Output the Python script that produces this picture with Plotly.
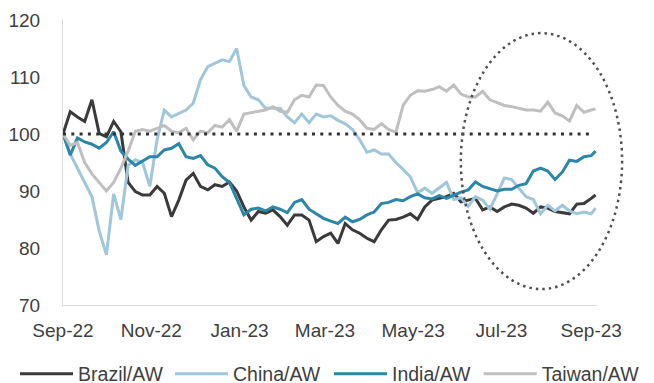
import pandas as pd
import plotly.graph_objects as go

# sampling dates: every 5 calendar days from 1 Sep 2022, plus final observation
dates = list(pd.date_range("2022-09-01", periods=74, freq="5D")) + [pd.Timestamp("2023-09-04")]

brazil = [100, 103.9, 103, 102.2, 106, 100.1, 99.5, 102.2, 100.4, 91.5,
          89.9, 89.3, 89.3, 90.8, 89.6, 85.5, 88.4, 91.9, 93.1, 90.8,
          90.2, 91.1, 90.8, 91.6, 90.0, 87.2, 84.9, 86.4, 86.1, 86.7,
          85.5, 84.0, 85.8, 85.8, 84.9, 81.1, 82.0, 82.6, 80.8, 84.3,
          83.2, 82.6, 81.7, 81.1, 83.2, 84.9, 85.0, 85.4, 86.0, 85.0,
          87.2, 88.4, 88.7, 89.0, 89.6, 88.1, 88.4, 88.7, 86.7, 87.2,
          86.4, 87.2, 87.7, 87.5, 87.0, 86.1, 87.2, 87.0, 86.4, 86.2,
          86.0, 87.7, 87.8, 88.7, 89.3]
china = [100, 96.5, 94, 91.5, 89, 83, 78.8, 89.5, 85, 94.5,
         95.5, 95, 90.8, 99, 104.2, 103, 103.6, 104.2, 105.4, 109.5,
         111.8, 112.4, 113, 112.7, 115, 108.5, 106.5, 106, 104.5, 104.5,
         104.5, 103, 102, 103.5, 102, 103.5, 103, 103.2, 102.4, 101.8,
         100.8, 99, 96.8, 97.2, 96.5, 96.5, 95, 93.8, 92.5, 89.7,
         90.5, 89.6, 90.5, 91.5, 88.5, 88.8, 87.3, 89, 88.4, 86.8,
         89.5, 92.3, 92, 90.5, 89, 88.5, 86, 87.5, 86.5, 87.5,
         86.5, 86, 86.3, 86, 87]
india = [100, 96.3, 99.3, 98.6, 98.2, 97.5, 98.5, 100.4, 97, 95.6,
         94.5, 95.3, 96, 96, 97.2, 97.5, 98.3, 96, 95.7, 96.2,
         94.6, 94, 92.5, 91.5, 88.5, 85.8, 86.8, 87, 86.5, 87.2,
         86.8, 86.2, 88, 88.5, 86.8, 86, 85.2, 84.7, 84.3, 85.4,
         84.6, 85, 85.8, 86.3, 87.8, 88, 88.5, 88.3, 89, 89.5,
         88.8, 88.6, 89.2, 88.7, 89.3, 89.8, 90.2, 91.6, 90.8, 90.4,
         90, 90.3, 90.3, 91, 91.3, 93.5, 94, 93.5, 92, 93.3,
         95.4, 95.2, 96, 96.2, 97]
taiwan = [100, 98, 98.5, 95, 93, 91.5, 90, 91.5, 94, 97,
          100.5, 100.8, 100.5, 101, 101.5, 100.5, 100.2, 101, 99, 100.5,
          100.2, 101.5, 101.2, 102.5, 100.5, 103.5, 103.8, 104, 104.2, 104.8,
          104, 103.8, 106, 106.8, 106.5, 108.6, 108.5, 106.5, 105, 104,
          103.5, 102.5, 101, 100.8, 101.8, 100.8, 100.3, 105, 106.8, 107.6,
          107.5, 107.8, 108.3, 107.5, 108.6, 107, 106.5, 106.5, 107.5, 106,
          105.5, 105, 104.8, 104.5, 104.2, 104.2, 104, 105.6, 103.7, 103.2,
          102.3, 105, 103.8, 104.2, 104.4]

names = ["Brazil/AW", "China/AW", "India/AW", "Taiwan/AW"]
series = [brazil, china, india, taiwan]
colors = ["#3a3a3a", "#a0c6d9", "#2b87a5", "#bfbfbf"]

tick_dates = ["2022-09-01", "2022-11-01", "2023-01-01", "2023-03-01",
              "2023-05-01", "2023-07-01", "2023-09-01"]
tick_labels = ["Sep-22", "Nov-22", "Jan-23", "Mar-23", "May-23", "Jul-23", "Sep-23"]
y_ticks = [70, 80, 90, 100, 110, 120]
baseline = 100

legend_ids = ["legend", "legend2", "legend3", "legend4"]
legend_x = [0.023, 0.26, 0.503, 0.732]

fig = go.Figure()
for name, vals, col, lid in zip(names, series, colors, legend_ids):
    fig.add_trace(go.Scatter(x=dates, y=vals, mode="lines", name=name,
                             line=dict(color=col, width=3), legend=lid))

fig.add_shape(type="line", xref="paper", yref="y", x0=0, x1=0.99,
              y0=baseline, y1=baseline,
              line=dict(color="#333333", width=3, dash="3px,5.3px"))
fig.add_shape(type="circle", xref="paper", yref="y", x0=0.745, x1=1.047,
              y0=72.8, y1=117.7,
              line=dict(color="#505050", width=2.5, dash="2.5px,4px"))

font = dict(family="Liberation Sans, Arial, sans-serif", size=19, color="#404040")
leg_font = dict(family="Liberation Sans, Arial, sans-serif", size=19.5, color="#404040")
layout_legends = {}
for lid, lx in zip(legend_ids, legend_x):
    layout_legends[lid] = dict(orientation="h", xref="container", yref="container",
                               x=lx, xanchor="left", y=0.0235, yanchor="middle",
                               font=leg_font, itemwidth=53,
                               bgcolor="rgba(0,0,0,0)")

fig.update_layout(
    width=654, height=383,
    margin=dict(l=63, r=57, t=20, b=78, autoexpand=False),
    paper_bgcolor="white", plot_bgcolor="white",
    font=font,
    showlegend=True,
    xaxis=dict(type="date", range=["2022-09-01", "2023-09-05"],
               tickvals=tick_dates, ticktext=tick_labels,
               showgrid=False, zeroline=False, showline=True,
               linecolor="#d9d9d9", linewidth=1, ticks="", ticklabelstandoff=8),
    yaxis=dict(range=[70, 120], tickvals=y_ticks,
               showgrid=False, zeroline=False, showline=True,
               linecolor="#d9d9d9", linewidth=1, ticks="", ticklabelstandoff=18),
    **layout_legends,
)

fig.write_html("out.html")
